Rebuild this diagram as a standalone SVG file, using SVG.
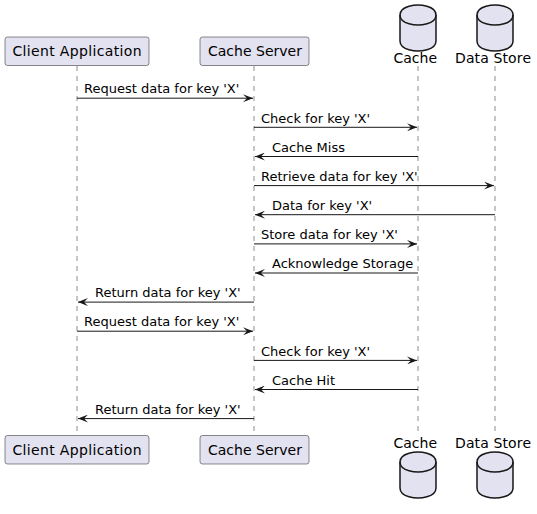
<svg xmlns="http://www.w3.org/2000/svg" width="537" height="514" viewBox="0 0 537 514">
<style>
.bg{fill:#FFFFFF}
.part{fill:#E2E2F0;stroke:#181818;stroke-width:0.5}
.db{fill:#E2E2F0;stroke:#181818;stroke-width:1.5}
.dbi{fill:none;stroke:#181818;stroke-width:1.5}
.life{stroke:#181818;stroke-width:0.5;stroke-dasharray:5,5;fill:none}
.msg{stroke:#181818;stroke-width:1;fill:none;marker-end:url(#ah)}
.pt{font-family:"DejaVu Sans",sans-serif;font-size:14px;fill:#000000}
.mt{font-family:"DejaVu Sans",sans-serif;font-size:13px;fill:#000000}
</style>
<defs>
<marker id="ah" viewBox="0 0 10 8" refX="10" refY="4" markerWidth="10" markerHeight="8" markerUnits="userSpaceOnUse" orient="auto">
<path d="M0,0 L10,4 L0,8 L4,4 Z" fill="#181818"/>
</marker>
<path id="cyl" d="M0,10 C0,0 18,0 18,0 C18,0 36,0 36,10 L36,36 C36,46 18,46 18,46 C18,46 0,46 0,36 L0,10 Z"/>
</defs>
<rect class="bg" x="0" y="0" width="537" height="514"/>
<g id="lifelines">
<line class="life" x1="77" y1="66" x2="77" y2="435"/>
<line class="life" x1="254" y1="66" x2="254" y2="435"/>
<line class="life" x1="418" y1="66" x2="418" y2="436"/>
<line class="life" x1="495" y1="66" x2="495" y2="436"/>
</g>
<g id="client">
<rect class="part" x="5" y="37" width="144" height="28.5" rx="2.5"/>
<text class="pt" x="12.5" y="56" textLength="129" lengthAdjust="spacing">Client Application</text>
<rect class="part" x="5" y="435.5" width="144" height="28.5" rx="2.5"/>
<text class="pt" x="12.5" y="455" textLength="129" lengthAdjust="spacing">Client Application</text>
</g>
<g id="server">
<rect class="part" x="200" y="37" width="109" height="28.5" rx="2.5"/>
<text class="pt" x="208" y="56">Cache Server</text>
<rect class="part" x="200" y="435.5" width="109" height="28.5" rx="2.5"/>
<text class="pt" x="208" y="455">Cache Server</text>
</g>
<g id="cache">
<use href="#cyl" class="db" x="400" y="5"/>
<path class="dbi" d="M400,15 C400,25 418,25 418,25 C418,25 436,25 436,15"/>
<text class="pt" x="393.5" y="63">Cache</text>
<text class="pt" x="393.5" y="448">Cache</text>
<use href="#cyl" class="db" x="400" y="452"/>
<path class="dbi" d="M400,462 C400,472 418,472 418,472 C418,472 436,472 436,462"/>
</g>
<g id="datastore">
<use href="#cyl" class="db" x="477" y="5"/>
<path class="dbi" d="M477,15 C477,25 495,25 495,25 C495,25 513,25 513,15"/>
<text class="pt" x="455" y="63" textLength="76" lengthAdjust="spacing">Data Store</text>
<text class="pt" x="455" y="448" textLength="76" lengthAdjust="spacing">Data Store</text>
<use href="#cyl" class="db" x="477" y="452"/>
<path class="dbi" d="M477,462 C477,472 495,472 495,472 C495,472 513,472 513,462"/>
</g>
<g id="connectors">
<line class="msg" x1="77" y1="98.2" x2="253" y2="98.2"/>
<text class="mt" x="84" y="93.4">Request data for key 'X'</text>
<line class="msg" x1="254" y1="127.3" x2="417" y2="127.3"/>
<text class="mt" x="261" y="122.5">Check for key 'X'</text>
<line class="msg" x1="418" y1="156.5" x2="255" y2="156.5"/>
<text class="mt" x="272" y="151.7">Cache Miss</text>
<line class="msg" x1="254" y1="185.6" x2="494" y2="185.6"/>
<text class="mt" x="261" y="180.8">Retrieve data for key 'X'</text>
<line class="msg" x1="495" y1="214.7" x2="255" y2="214.7"/>
<text class="mt" x="272" y="209.9">Data for key 'X'</text>
<line class="msg" x1="254" y1="243.9" x2="417" y2="243.9"/>
<text class="mt" x="261" y="239.1">Store data for key 'X'</text>
<line class="msg" x1="418" y1="273" x2="255" y2="273"/>
<text class="mt" x="272" y="268.2">Acknowledge Storage</text>
<line class="msg" x1="254" y1="302.1" x2="78" y2="302.1"/>
<text class="mt" x="95" y="297.3">Return data for key 'X'</text>
<line class="msg" x1="77" y1="331.2" x2="253" y2="331.2"/>
<text class="mt" x="84" y="326.4">Request data for key 'X'</text>
<line class="msg" x1="254" y1="360.4" x2="417" y2="360.4"/>
<text class="mt" x="261" y="355.6">Check for key 'X'</text>
<line class="msg" x1="418" y1="389.5" x2="255" y2="389.5"/>
<text class="mt" x="272" y="384.7">Cache Hit</text>
<line class="msg" x1="254" y1="418.6" x2="78" y2="418.6"/>
<text class="mt" x="95" y="413.8">Return data for key 'X'</text>
</g>
</svg>
